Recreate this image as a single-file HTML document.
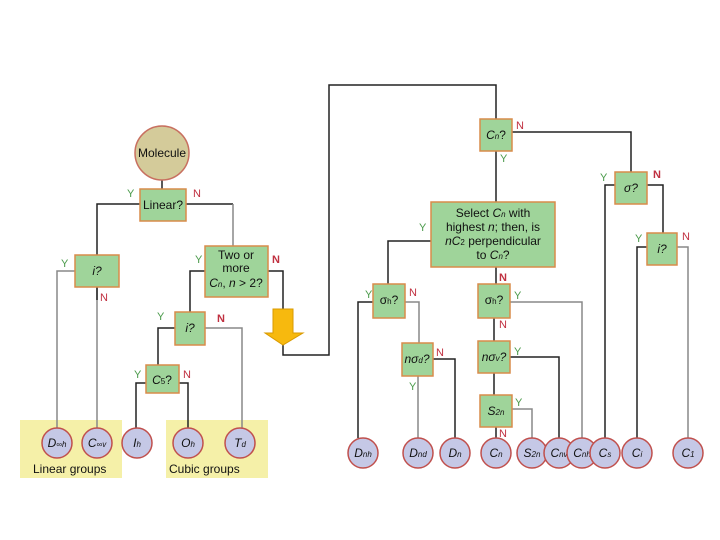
<!DOCTYPE html>
<html><head><meta charset="utf-8"><style>
html,body{margin:0;padding:0;background:#fff;}
svg{display:block;font-family:"Liberation Sans",sans-serif;}
.b{fill:#9fd49a;stroke:#d98c4a;stroke-width:1.5;}
.c{fill:#c5c8e6;stroke:#c0504d;stroke-width:1.5;}
.k{stroke:#222;stroke-width:1.5;fill:none;}
.g{stroke:#888;stroke-width:1.5;fill:none;}
.Y{fill:#4a9a4a;font-size:11px;}
.N{fill:#c03040;font-size:11px;}
.t{font-size:12px;fill:#111;text-anchor:middle;}
.i{font-style:italic;}
.l{font-size:12px;fill:#111;}
</style></head><body>
<svg width="720" height="540" viewBox="0 0 720 540">
<rect x="20" y="420" width="102" height="58" fill="#f5f0a8"/>
<rect x="166" y="420" width="102" height="58" fill="#f5f0a8"/>
<!-- left lines -->
<path class="k" d="M162 180V189 M140 204H97V255 M186 204H233"/>
<path class="g" d="M233 204V246 M75 271H57V428 M97 287V428"/>
<path class="k" d="M97 287V300"/>
<path class="k" d="M205 271H190V312 M268 271H283V309"/>
<path class="g" d="M205 328H242V428"/>
<path class="k" d="M175 328H158V365 M146 383H136V428 M179 383H188V428"/>
<path class="k" d="M283 345V355H329V85H496V119"/>
<!-- arrow -->
<path d="M273 309H293V333H303L283 345L265 333H273Z" fill="#f7b90e" stroke="#d99a00" stroke-width="1"/>
<!-- right lines -->
<path class="k" d="M496 151V202 M512 132H631V172 M615 185H605V438 M647 185H663V233 M647 247H637V438"/>
<path class="g" d="M677 247H688V438"/>
<path class="k" d="M431 241H388V284 M373 302H358V438"/>
<path class="g" d="M405 302H419V343 M418 376V438"/>
<path class="k" d="M433 359H455V438"/>
<path class="k" d="M496 267V284 M494 318V341 M494 373V395 M496 427V438"/>
<path class="g" d="M510 302H582V438 M512 409H532V438"/>
<path class="k" d="M510 357H559V438"/>
<!-- boxes -->
<rect class="b" x="140" y="189" width="46" height="32"/><text class="t" x="163" y="209">Linear?</text>
<rect class="b" x="75" y="255" width="44" height="32"/><text class="t i" x="97" y="275">i?</text>
<rect class="b" x="205" y="246" width="63" height="51"/>
<text class="t" x="236" y="259">Two or</text><text class="t" x="236" y="272">more</text><text class="t" x="236" y="287"><tspan class="i">C</tspan><tspan font-size="8" class="i">n</tspan>, <tspan class="i">n</tspan> &gt; 2?</text>
<rect class="b" x="175" y="312" width="30" height="33"/><text class="t i" x="190" y="332">i?</text>
<rect class="b" x="146" y="365" width="33" height="28"/><text class="t" x="162" y="384"><tspan class="i">C</tspan><tspan font-size="8">5</tspan>?</text>
<rect class="b" x="480" y="119" width="32" height="32"/><text class="t" x="496" y="139"><tspan class="i">C</tspan><tspan font-size="8" class="i">n</tspan>?</text>
<rect class="b" x="615" y="172" width="32" height="32"/><text class="t i" x="631" y="192">σ?</text>
<rect class="b" x="647" y="233" width="30" height="32"/><text class="t i" x="662" y="253">i?</text>
<rect class="b" x="431" y="202" width="124" height="65"/>
<text class="t" x="493" y="217">Select <tspan class="i">C</tspan><tspan font-size="8" class="i">n</tspan> with</text>
<text class="t" x="493" y="231">highest <tspan class="i">n</tspan>; then, is</text>
<text class="t" x="493" y="245"><tspan class="i">nC</tspan><tspan font-size="8">2</tspan> perpendicular</text>
<text class="t" x="493" y="259">to <tspan class="i">C</tspan><tspan font-size="8" class="i">n</tspan>?</text>
<rect class="b" x="373" y="284" width="32" height="34"/><text class="t" x="389" y="304">σ<tspan font-size="8">h</tspan>?</text>
<rect class="b" x="478" y="284" width="32" height="34"/><text class="t" x="494" y="304">σ<tspan font-size="8">h</tspan>?</text>
<rect class="b" x="402" y="343" width="31" height="33"/><text class="t i" x="417" y="363">nσ<tspan font-size="8">d</tspan>?</text>
<rect class="b" x="478" y="341" width="32" height="32"/><text class="t i" x="494" y="361">nσ<tspan font-size="8">v</tspan>?</text>
<rect class="b" x="480" y="395" width="32" height="32"/><text class="t i" x="496" y="415">S<tspan font-size="8">2n</tspan></text>
<!-- circles -->
<circle cx="162" cy="153" r="27" fill="#d4cb9a" stroke="#c87060" stroke-width="1.5"/><text class="t" x="162" y="157">Molecule</text>
<g class="i">
<circle class="c" cx="57" cy="443" r="15"/><text class="t" x="57" y="447">D<tspan font-size="8">∞h</tspan></text>
<circle class="c" cx="97" cy="443" r="15"/><text class="t" x="97" y="447">C<tspan font-size="8">∞v</tspan></text>
<circle class="c" cx="137" cy="443" r="15"/><text class="t" x="137" y="447">I<tspan font-size="8">h</tspan></text>
<circle class="c" cx="188" cy="443" r="15"/><text class="t" x="188" y="447">O<tspan font-size="8">h</tspan></text>
<circle class="c" cx="240" cy="443" r="15"/><text class="t" x="240" y="447">T<tspan font-size="8">d</tspan></text>
<circle class="c" cx="363" cy="453" r="15"/><text class="t" x="363" y="457">D<tspan font-size="8">nh</tspan></text>
<circle class="c" cx="418" cy="453" r="15"/><text class="t" x="418" y="457">D<tspan font-size="8">nd</tspan></text>
<circle class="c" cx="455" cy="453" r="15"/><text class="t" x="455" y="457">D<tspan font-size="8">n</tspan></text>
<circle class="c" cx="496" cy="453" r="15"/><text class="t" x="496" y="457">C<tspan font-size="8">n</tspan></text>
<circle class="c" cx="532" cy="453" r="15"/><text class="t" x="532" y="457">S<tspan font-size="8">2n</tspan></text>
<circle class="c" cx="559" cy="453" r="15"/><text class="t" x="559" y="457">C<tspan font-size="8">nv</tspan></text>
<circle class="c" cx="582" cy="453" r="15"/><text class="t" x="582" y="457">C<tspan font-size="8">nh</tspan></text>
<circle class="c" cx="605" cy="453" r="15"/><text class="t" x="605" y="457">C<tspan font-size="8">s</tspan></text>
<circle class="c" cx="637" cy="453" r="15"/><text class="t" x="637" y="457">C<tspan font-size="8">i</tspan></text>
<circle class="c" cx="688" cy="453" r="15"/><text class="t" x="688" y="457">C<tspan font-size="8">1</tspan></text>
</g>
<text class="l" x="33" y="473">Linear groups</text>
<text class="l" x="169" y="473">Cubic groups</text>
<!-- Y/N labels -->
<text class="Y" x="127" y="197">Y</text><text class="N" x="193" y="197">N</text>
<text class="Y" x="61" y="267">Y</text><text class="N" x="100" y="301">N</text>
<text class="Y" x="195" y="263">Y</text><text class="N" x="272" y="263" font-weight="bold">N</text>
<text class="Y" x="157" y="320">Y</text><text class="N" x="217" y="322" font-weight="bold">N</text>
<text class="Y" x="134" y="378">Y</text><text class="N" x="183" y="378">N</text>
<text class="N" x="516" y="129">N</text><text class="Y" x="500" y="162">Y</text>
<text class="Y" x="600" y="181">Y</text><text class="N" x="653" y="178" font-weight="bold">N</text>
<text class="Y" x="635" y="242">Y</text><text class="N" x="682" y="240">N</text>
<text class="Y" x="419" y="231">Y</text>
<text class="Y" x="365" y="298">Y</text><text class="N" x="409" y="296">N</text>
<text class="N" x="499" y="281" font-weight="bold">N</text><text class="Y" x="514" y="299">Y</text>
<text class="N" x="499" y="328">N</text><text class="Y" x="514" y="355">Y</text>
<text class="N" x="436" y="356">N</text><text class="Y" x="409" y="390">Y</text>
<text class="Y" x="515" y="406">Y</text><text class="N" x="499" y="437">N</text>
</svg>
</body></html>
